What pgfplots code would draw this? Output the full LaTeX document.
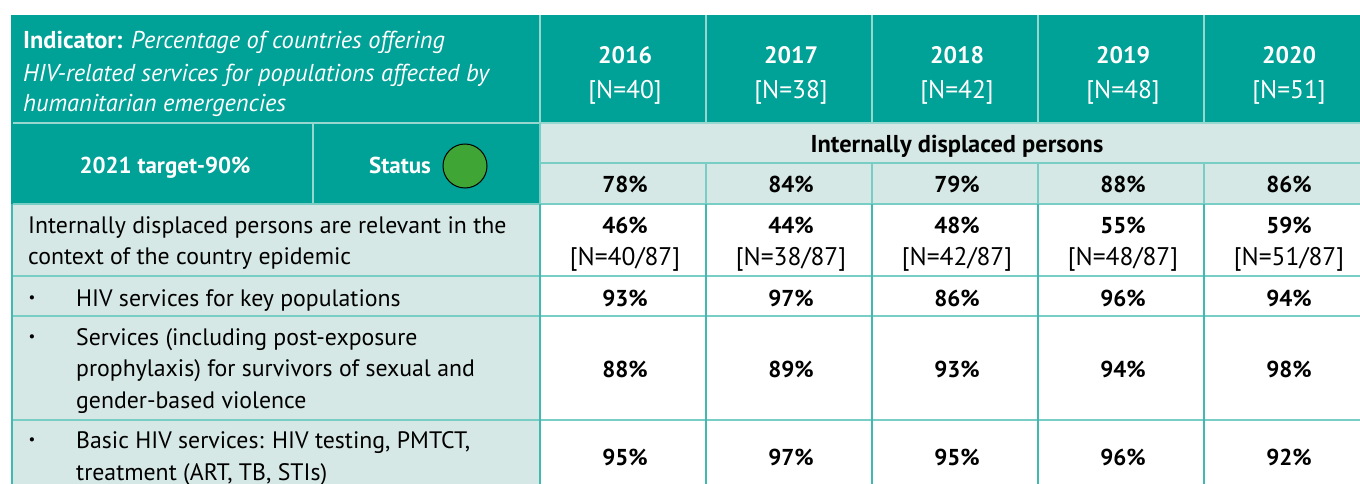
\documentclass[border=0pt]{standalone}
\usepackage{pgfplots}
\usepackage{pgfplotstable}
\pgfplotsset{compat=1.18}
\usepackage{fontspec}
\setmainfont{PT Sans}
\definecolor{teal1}{RGB}{0,161,150}
\definecolor{lightbg}{RGB}{214,232,229}
\definecolor{gridc}{RGB}{120,205,196}
\definecolor{hdrline}{RGB}{150,215,208}
\definecolor{statusg}{RGB}{63,165,53}
\newcommand{\fs}{\fontsize{23}{28}\selectfont}
\newcommand{\fb}{\fontsize{23.8}{28}\selectfont}
\newcommand{\fh}{\fontsize{24.4}{28}\selectfont}
\newcommand{\fn}{\fontsize{25.5}{28}\selectfont}

% overall IDP row (col = 0..4 for 2016..2020)
\pgfplotstableread{
col val
0 78
1 84
2 79
3 88
4 86
}\overall
\pgfplotstableread{
col val n
0 46 40
1 44 38
2 48 42
3 55 48
4 59 51
}\relevant
\pgfplotstableread{
col val
0 93
1 97
2 86
3 96
4 94
}\keypop
\pgfplotstableread{
col val
0 88
1 89
2 93
3 94
4 98
}\sgbv
\pgfplotstableread{
col val
0 95
1 97
2 95
3 96
4 92
}\basic

\begin{document}
\begin{tikzpicture}
\begin{axis}[
  scale only axis, width=1360pt, height=484pt,
  xmin=0, xmax=1360, ymin=0, ymax=484, y dir=reverse,
  hide axis, clip=true,
  /pgf/number format/assume math mode=true,
  every node near coord/.style={anchor=base, text=black, font=\fs\bfseries, inner sep=0pt},
]
% backgrounds
\fill[teal1] (12,15) rectangle (1372,123);
\fill[teal1] (12,123) rectangle (540,204);
\fill[lightbg] (540,123) rectangle (1372,204);
\fill[lightbg] (12,204) rectangle (540,490);
% header lines
\draw[hdrline, line width=1.2pt] (12,123) -- (1372,123);
\pgfplotsinvokeforeach{540,706,872,1038,1204}{\draw[hdrline, line width=1.2pt] (#1,15) -- (#1,123);}
\draw[hdrline, line width=1.2pt] (313,123) -- (313,204);
% light rows lines
\draw[gridc, line width=1.5pt] (540,163) -- (1372,163);
\pgfplotsinvokeforeach{706,872,1038,1204}{\draw[gridc, line width=1.5pt] (#1,163) -- (#1,204);}
\draw[gridc, line width=1.5pt] (540,123) -- (540,204);
% body lines
\pgfplotsinvokeforeach{204,276,316,420}{\draw[gridc, line width=2pt] (12,#1) -- (1372,#1);}
\pgfplotsinvokeforeach{12,540,706,872,1038,1204}{\draw[teal1!75, line width=1.3pt] (#1,204) -- (#1,490);}
\draw[teal1, line width=1.3pt] (12,15) -- (12,204);

% header texts
\node[anchor=base west, inner sep=0pt, text=white, font=\fh] at (23,49) {\textbf{Indicator:} \textit{Percentage of countries offering}};
\node[anchor=base west, inner sep=0pt, text=white, font=\fh\itshape] at (23,82) {HIV-related services for populations affected by};
\node[anchor=base west, inner sep=0pt, text=white, font=\fh\itshape] at (23,112) {humanitarian emergencies};
\node[anchor=base, text=white, font=\fb\bfseries] at (625,64) {2016};
\node[anchor=base, text=white, font=\fb\bfseries] at (791,64) {2017};
\node[anchor=base, text=white, font=\fb\bfseries] at (957,64) {2018};
\node[anchor=base, text=white, font=\fb\bfseries] at (1123,64) {2019};
\node[anchor=base, text=white, font=\fb\bfseries] at (1289,64) {2020};
\node[anchor=base, text=white, font=\fn] at (625,99) {[N=40]};
\node[anchor=base, text=white, font=\fn] at (791,99) {[N=38]};
\node[anchor=base, text=white, font=\fn] at (957,99) {[N=42]};
\node[anchor=base, text=white, font=\fn] at (1123,99) {[N=48]};
\node[anchor=base, text=white, font=\fn] at (1289,99) {[N=51]};
\node[anchor=base, text=white, font=\fs\bfseries] at (165,174) {2021 target-90\%};
\node[anchor=base, text=white, font=\fs\bfseries] at (400,174) {Status};
\draw[black, line width=1pt, fill=statusg] (465,166) circle [radius=22];
\node[anchor=base, text=black, font=\fh\bfseries] at (957,153) {Internally displaced persons};

% body left texts
\begin{scope}[every node/.style={inner sep=0pt, font=\fb}]
\node[anchor=base west] at (28,233) {Internally displaced persons are relevant in the};
\node[anchor=base west] at (28,264) {context of the country epidemic};
\node[anchor=base, font=\fontsize{15}{18}\selectfont] at (32,302) {\textbullet};
\node[anchor=base west] at (76,306) {HIV services for key populations};
\node[anchor=base, font=\fontsize{15}{18}\selectfont] at (32,341) {\textbullet};
\node[anchor=base west] at (76,345) {Services (including post-exposure};
\node[anchor=base west] at (76,376) {prophylaxis) for survivors of sexual and};
\node[anchor=base west] at (76,408) {gender-based violence};
\node[anchor=base, font=\fontsize{15}{18}\selectfont] at (32,444) {\textbullet};
\node[anchor=base west] at (76,448) {Basic HIV services: HIV testing, PMTCT,};
\node[anchor=base west] at (76,480) {treatment (ART, TB, STIs)};
\end{scope}

% data cells
\addplot[draw=none, mark=none, point meta=explicit,
  nodes near coords={\pgfmathprintnumber{\pgfplotspointmeta}\%}]
  table[x expr={625+166*\thisrow{col}}, y expr=193, meta=val] {\overall};
\addplot[draw=none, mark=none, point meta=explicit,
  nodes near coords={\pgfmathprintnumber{\pgfplotspointmeta}\%}]
  table[x expr={625+166*\thisrow{col}}, y expr=233, meta=val] {\relevant};
\addplot[draw=none, mark=none, point meta=explicit,
  nodes near coords={\relax[N=\pgfmathprintnumber{\pgfplotspointmeta}/87]},
  every node near coord/.append style={font=\fn}]
  table[x expr={625+166*\thisrow{col}}, y expr=265, meta=n] {\relevant};
\addplot[draw=none, mark=none, point meta=explicit,
  nodes near coords={\pgfmathprintnumber{\pgfplotspointmeta}\%}]
  table[x expr={625+166*\thisrow{col}}, y expr=306, meta=val] {\keypop};
\addplot[draw=none, mark=none, point meta=explicit,
  nodes near coords={\pgfmathprintnumber{\pgfplotspointmeta}\%}]
  table[x expr={625+166*\thisrow{col}}, y expr=377, meta=val] {\sgbv};
\addplot[draw=none, mark=none, point meta=explicit,
  nodes near coords={\pgfmathprintnumber{\pgfplotspointmeta}\%}]
  table[x expr={625+166*\thisrow{col}}, y expr=465, meta=val] {\basic};
\end{axis}
\pgfresetboundingbox
\useasboundingbox (current axis.south west) rectangle (current axis.north east);
\end{tikzpicture}
\end{document}
